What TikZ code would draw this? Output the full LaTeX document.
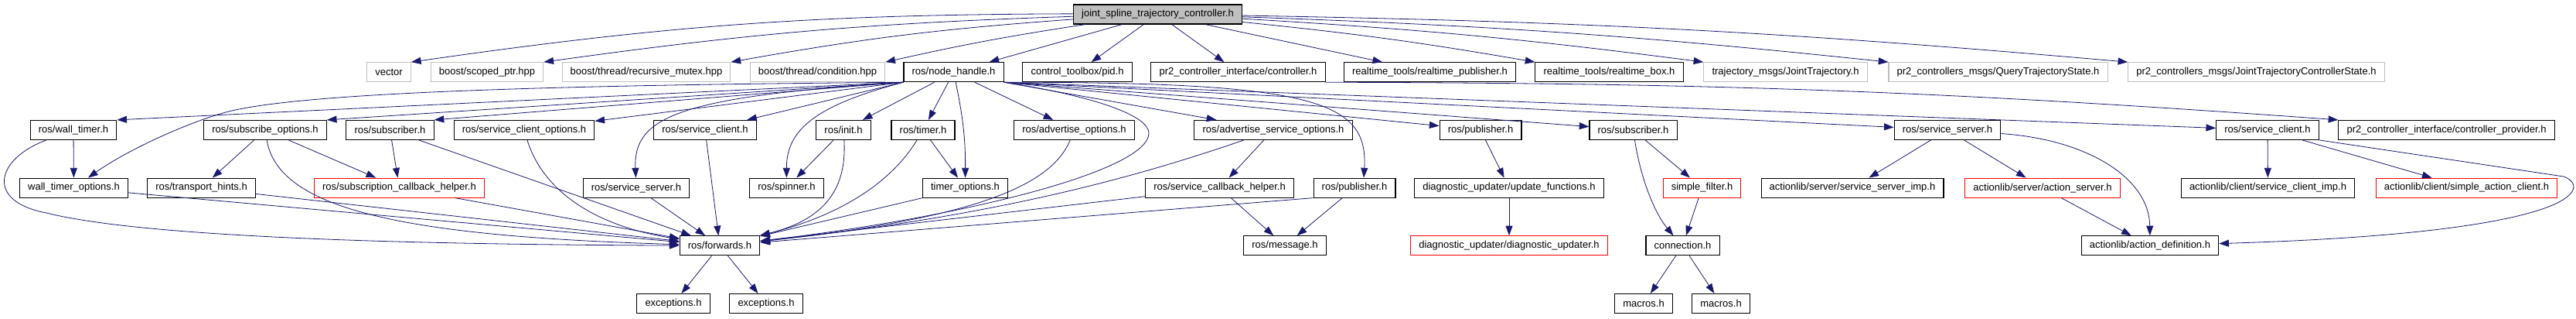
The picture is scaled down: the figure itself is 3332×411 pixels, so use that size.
\documentclass[tikz,border=0pt]{standalone}
\usepackage{fontspec}
\usepackage{tikz}
\usetikzlibrary{arrows.meta}
\usetikzlibrary{positioning}
\newfontfamily\graphfont{Liberation Sans}
\definecolor{EdgeBlue}{RGB}{25,25,112}
\definecolor{ExtGray}{RGB}{191,191,191}
\definecolor{TruncRed}{RGB}{255,0,0}

\begin{document}
\begin{tikzpicture}[x=0.75pt, y=0.75pt,
 >={Triangle[length=9.5pt,width=6.75pt]},
 block/.style = {draw, rectangle, minimum height=18.75pt, inner xsep=8pt, inner ysep=0pt,
                 line width=0.8pt, font=\graphfont\fontsize{9.75}{11}\selectfont},
 extblock/.style = {block, draw=ExtGray},
 redblock/.style = {block, draw=TruncRed},
 topblock/.style = {block, fill=ExtGray},
 inc/.style = {->, draw=EdgeBlue, fill=none, line width=0.6pt},
                        ]
    \useasboundingbox (0,0) rectangle (3332,-411);

    \node [topblock] (jstc) at (1497.5,-18.5) {joint\_spline\_trajectory\_controller.h};

    \node [extblock] (vector) at (503,-93.2) {vector};
    \node [extblock] (scoped) at (630,-93.2) {boost/scoped\_ptr.hpp};
    \node [extblock] (rmutex) at (836,-93.2) {boost/thread/recursive\_mutex.hpp};
    \node [extblock] (cond) at (1057.5,-93.2) {boost/thread/condition.hpp};
    \node [block] (nh) at (1233.5,-93.2) {ros/node\_handle.h};
    \node [block] (pid) at (1393.5,-93.2) {control\_toolbox/pid.h};
    \node [block] (ctrl) at (1601.5,-93.2) {pr2\_controller\_interface/controller.h};
    \node [block] (rtpub) at (1849.5,-93.2) {realtime\_tools/realtime\_publisher.h};
    \node [block] (rtbox) at (2081.5,-93.2) {realtime\_tools/realtime\_box.h};
    \node [extblock] (jtraj) at (2309.5,-93.2) {trajectory\_msgs/JointTrajectory.h};
    \node [extblock] (qts) at (2584.5,-93.2) {pr2\_controllers\_msgs/QueryTrajectoryState.h};
    \node [extblock] (jtcs) at (2918.5,-93.2) {pr2\_controllers\_msgs/JointTrajectoryControllerState.h};

    \node [block] (wtimer) at (95,-167.9) {ros/wall\_timer.h};
    \node [block] (subopt) at (343,-167.9) {ros/subscribe\_options.h};
    \node [block] (suba) at (504.5,-167.9) {ros/subscriber.h};
    \node [block] (scopt) at (678,-167.9) {ros/service\_client\_options.h};
    \node [block] (sclia) at (912,-167.9) {ros/service\_client.h};
    \node [block] (init) at (1091,-167.9) {ros/init.h};
    \node [block] (timer) at (1194,-167.9) {ros/timer.h};
    \node [block] (advopt) at (1389.5,-167.9) {ros/advertise\_options.h};
    \node [block] (asopt) at (1647,-167.9) {ros/advertise\_service\_options.h};
    \node [block] (puba) at (1915,-167.9) {ros/publisher.h};
    \node [block] (subb) at (2112.5,-167.9) {ros/subscriber.h};
    \node [block] (ssrvb) at (2519,-167.9) {ros/service\_server.h};
    \node [block] (sclib) at (2933,-167.9) {ros/service\_client.h};
    \node [block] (cprov) at (3164.5,-167.9) {pr2\_controller\_interface/controller\_provider.h};

    \node [block] (wtopt) at (95.5,-242.6) {wall\_timer\_options.h};
    \node [block] (thints) at (260.5,-242.6) {ros/transport\_hints.h};
    \node [redblock] (schelp) at (516.5,-242.6) {ros/subscription\_callback\_helper.h};
    \node [block] (ssrva) at (823,-242.6) {ros/service\_server.h};
    \node [block] (spinner) at (1017.5,-242.6) {ros/spinner.h};
    \node [block] (topt) at (1248.5,-242.6) {timer\_options.h};
    \node [block] (svcb) at (1577.5,-242.6) {ros/service\_callback\_helper.h};
    \node [block] (pubb) at (1752,-242.6) {ros/publisher.h};
    \node [block] (updfn) at (1952,-242.6) {diagnostic\_updater/update\_functions.h};
    \node [redblock] (sfilt) at (2201.5,-242.6) {simple\_filter.h};
    \node [block] (ssimp) at (2396,-242.6) {actionlib/server/service\_server\_imp.h};
    \node [redblock] (asrv) at (2642,-242.6) {actionlib/server/action\_server.h};
    \node [block] (scimp) at (2933.5,-242.6) {actionlib/client/service\_client\_imp.h};
    \node [redblock] (sacli) at (3190.5,-242.6) {actionlib/client/simple\_action\_client.h};

    \node [block] (fwd) at (931,-317.3) {ros/forwards.h};
    \node [block] (msg) at (1662,-317.3) {ros/message.h};
    \node [redblock] (diag) at (1952,-317.3) {diagnostic\_updater/diagnostic\_updater.h};
    \node [block] (conn) at (2176.5,-317.3) {connection.h};
    \node [block] (adef) at (2781,-317.3) {actionlib/action\_definition.h};

    \node [block] (exca) at (871,-392) {exceptions.h};
    \node [block] (excb) at (991,-392) {exceptions.h};
    \node [block] (maca) at (2126,-392) {macros.h};
    \node [block] (macb) at (2226,-392) {macros.h};

    \path (jstc) edge [inc, bend right=4] (vector.north east)
          (jstc) edge [inc, bend right=3] (scoped.north east)
          (jstc) edge [inc, bend right=3] (rmutex.north east)
          (jstc) edge [inc, bend right=2] (cond.north east)
          (jstc) edge [inc] (nh)
          (jstc) edge [inc] (pid)
          (jstc) edge [inc] (ctrl)
          (jstc) edge [inc] (rtpub)
          (jstc) edge [inc, bend left=2] (rtbox.north west)
          (jstc) edge [inc, bend left=2] (jtraj.north west)
          (jstc) edge [inc, bend left=2] (qts.north west)
          (jstc) edge [inc, bend left=2] (jtcs.north west);

    \path (nh.south west) edge [inc] (wtimer.north east)
          (nh.south west) edge [inc] (subopt.north east)
          (nh.south west) edge [inc] (suba.north east)
          (nh.south west) edge [inc] (scopt)
          (nh.south west) edge [inc] (sclia)
          (nh) edge [inc] (init)
          (nh) edge [inc] (timer)
          (nh) edge [inc, bend left=6] (topt)
          (nh) edge [inc] (advopt)
          (nh.south east) edge [inc] (asopt)
          (nh.south east) edge [inc] (puba)
          (nh.south east) edge [inc] (subb)
          (nh.south east) edge [inc] (ssrvb)
          (nh.south east) edge [inc] (sclib)
          (ctrl.south east) edge [inc, bend left=2] (cprov.north west);

    \draw [inc] (nh.south west) .. controls (700,-110) and (400,-120) .. (300,-143)
                                .. controls (256,-153) and (170,-190) .. (wtopt);
    \draw [inc] (nh.south west) .. controls (880,-125) and (819,-150) .. (ssrva);
    \draw [inc] (nh.south west) .. controls (1060,-135) and (1017,-165) .. (spinner);
    \draw [inc] (nh.south east) .. controls (1420,-125) and (1486,-150) .. (1486,-172)
                                .. controls (1486,-220) and (1250,-280) .. (fwd);
    \draw [inc] (nh.south east) .. controls (1700,-106) and (1770,-130) .. ([xshift=9pt]pubb.north);

    \path (wtimer) edge [inc] (wtopt)
          (wtopt) edge [inc] (fwd)
          (thints) edge [inc] (fwd)
          (subopt) edge [inc] (thints)
          (subopt) edge [inc] (schelp)
          (suba) edge [inc] (schelp)
          (suba) edge [inc] (fwd)
          (schelp) edge [inc] (fwd)
          (sclia) edge [inc] (fwd)
          (ssrva) edge [inc] (fwd)
          (init) edge [inc] (spinner)
          (timer) edge [inc] (topt)
          (topt) edge [inc] (fwd)
          (asopt) edge [inc] (svcb)
          (svcb) edge [inc] (msg)
          (svcb) edge [inc] (fwd)
          (pubb) edge [inc] (msg)
          (pubb.south west) edge [inc] (fwd)
          (fwd) edge [inc] (exca)
          (fwd) edge [inc] (excb)
          (puba) edge [inc] (updfn)
          (updfn) edge [inc] (diag)
          (subb) edge [inc] (sfilt)
          (sfilt) edge [inc] (conn)
          (conn) edge [inc] (maca)
          (conn) edge [inc] (macb)
          (ssrvb) edge [inc] (ssimp)
          (ssrvb) edge [inc] (asrv)
          (asrv) edge [inc] (adef)
          (sclib) edge [inc] (scimp)
          (sclib) edge [inc] (sacli);

    \draw [inc] (wtimer) .. controls (-5,-205) and (-20,-260) .. (60,-275)
                         .. controls (200,-310) and (600,-316) .. (fwd);
    \draw [inc] (subopt) .. controls (360,-270) and (520,-305) .. (fwd);
    \draw [inc] (scopt) .. controls (700,-240) and (760,-290) .. (fwd);
    \draw [inc] (init) .. controls (1096,-250) and (1060,-285) .. (fwd);
    \draw [inc] (timer) .. controls (1150,-240) and (1080,-280) .. (fwd);
    \draw [inc] (advopt) .. controls (1360,-240) and (1260,-282) .. (fwd);
    \draw [inc] (asopt) .. controls (1480,-225) and (1300,-278) .. (fwd);
    \draw [inc] (subb) .. controls (2122,-230) and (2140,-275) .. ([xshift=-9pt]conn.north);
    \draw [inc] (ssrvb) .. controls (2700,-180) and (2780,-230) .. (adef);
    \draw [inc] (sclib.south east) -- (3316,-228) .. controls (3350,-240) and (3350,-300) .. (adef);

\end{tikzpicture}
\end{document}
